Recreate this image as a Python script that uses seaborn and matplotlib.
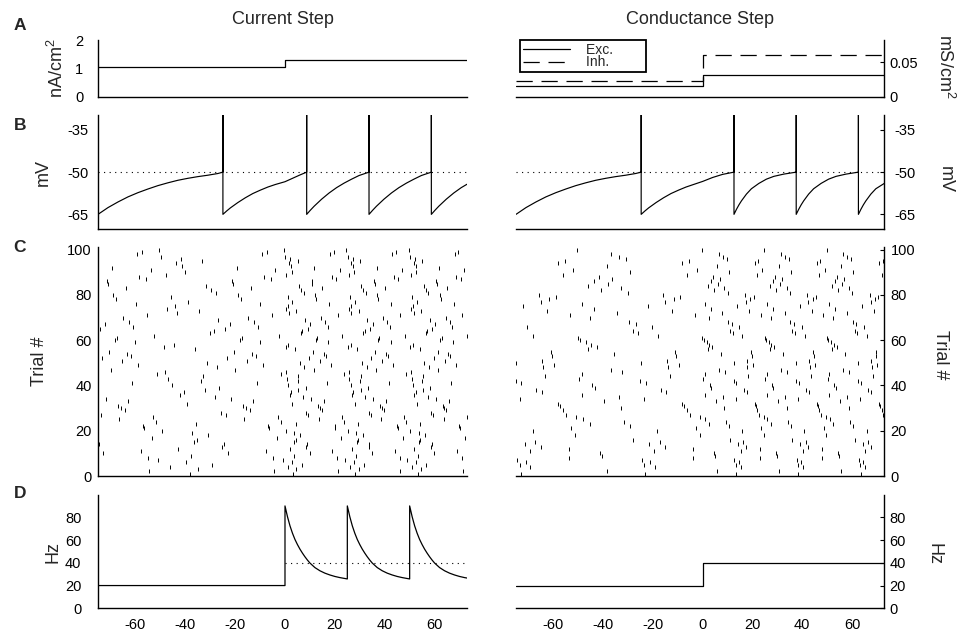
import pandas as pd
import matplotlib
matplotlib.use("Agg")
import matplotlib.pyplot as plt
import seaborn as sns
from matplotlib.lines import Line2D

T_MIN, T_MAX = -75, 73

# A: stimulus (current step / conductance step)
step_t = [-75, 0, 0, 73]
current = [1.06, 1.06, 1.29, 1.29]
g_exc = [0.0157, 0.0157, 0.0314, 0.0314]
g_inh = [0.023, 0.023, 0.060, 0.060]

# B: membrane potential, spikes drawn as vertical strokes (peak clipped)
THRESHOLD = -50
vm_cur_t = [-75, -71, -67, -63, -59, -55, -51, -47, -43, -39, -35, -31, -27, -24.9,
            -24.9, -24.9,
            -23.4, -21.9, -18.9, -15.9, -12.9, -9.9, -6.9, -3.9, 0, 3, 6, 8.7,
            8.7, 8.7,
            10.2, 11.7, 14.7, 17.7, 20.7, 23.7, 26.7, 29.7, 33.7,
            33.7, 33.7,
            35.2, 36.7, 39.7, 42.7, 45.7, 48.7, 51.7, 54.7, 58.7,
            58.7, 58.7,
            60.2, 61.7, 64.7, 67.7, 70.7, 73]
vm_cur = [-65, -62.6, -60.6, -58.8, -57.3, -56.0, -54.8, -53.8, -52.9, -52.2, -51.6, -51.1, -50.5, -50,
          0, -65,
          -63.8, -62.7, -60.8, -59.1, -57.6, -56.4, -55.3, -54.4, -53.4, -52.2, -51.0, -50,
          0, -65,
          -63.5, -62.1, -59.6, -57.4, -55.5, -53.9, -52.5, -51.2, -50,
          0, -65,
          -63.5, -62.1, -59.6, -57.4, -55.5, -53.9, -52.5, -51.2, -50,
          0, -65,
          -63.5, -62.1, -59.6, -57.4, -55.5, -54.3]
vm_cond_t = [-75, -71, -67, -63, -59, -55, -51, -47, -43, -39, -35, -31, -27, -24.7,
             -24.7, -24.7,
             -23.2, -21.7, -18.7, -15.7, -12.7, -9.7, -6.7, -3.7, 0, 4, 8, 12.6,
             12.6, 12.6,
             13.6, 14.6, 15.6, 17.6, 19.6, 22.6, 25.6, 28.6, 32.6, 37.6,
             37.6, 37.6,
             38.6, 39.6, 40.6, 42.6, 44.6, 47.6, 50.6, 53.6, 57.6, 62.6,
             62.6, 62.6,
             63.6, 64.6, 65.6, 67.6, 69.6, 73]
vm_cond = [-65, -62.6, -60.6, -58.8, -57.3, -56.0, -54.8, -53.8, -52.9, -52.2, -51.6, -51.1, -50.5, -50,
           0, -65,
           -63.8, -62.7, -60.8, -59.1, -57.6, -56.4, -55.3, -54.4, -53.3, -51.9, -50.8, -50,
           0, -65,
           -63.2, -61.6, -60.2, -57.8, -55.9, -54.0, -52.5, -51.5, -50.7, -50,
           0, -65,
           -63.2, -61.6, -60.2, -57.8, -55.9, -54.0, -52.5, -51.5, -50.7, -50,
           0, -65,
           -63.2, -61.6, -60.2, -57.8, -55.9, -54.0]

# C: rasters. Each trial fires periodically; stored are the last spike
# before the step and the first spike after it.
PRE_PERIOD = 50
POST_PERIOD = 25
cur_trials = list(range(1, 101))
cur_last_pre = [-38.2, -4.4, -34.8, -46.2, -29.2, -39.6, -0.9, -4.9, -37.7, -22.8,
                -7.8, -42.8, -25.4, -24.6, -36.6, -35.3, -3.3, -30.8, -37.4, -49.2,
                -6.4, -6.8, -35.7, -1.8, -16.4, -2.8, -23.8, -25.7, -14.2, -15.8,
                -16.8, -39.3, -12.9, -21.7, -28.1, -42.2, -40.6, -32.1, -26.3, -45.2,
                -11.3, -33.7, -46.8, -32.8, -1.5, -48.1, -19.9, -27.3, -8.9, -31.3,
                -15.4, -23.3, -11.7, -13.2, -20.4, -36.1, -48.7, -44.6, -10.2, -18.2,
                -17.4, -2.4, -30.2, -28.6, -24.2, -10.8, -22.2, -12.4, -26.8, -14.9,
                -5.3, -43.2, -34.3, -47.2, -44.2, -9.9, -38.8, -17.8, -45.7, -18.9,
                -27.8, -29.7, -13.8, -31.7, -20.8, -21.3, -5.8, -8.4, -47.7, -40.1,
                -3.9, -19.3, -41.2, -43.8, -33.2, -41.7, -49.7, -9.4, -7.3, -0.4]
cur_first_post = [3.2, 21.3, 4.5, 1.1, 6.7, 2.7, 24.1, 21.0, 3.5, 9.9,
                  19.0, 1.9, 8.5, 8.8, 3.8, 4.3, 22.3, 6.1, 3.6, 0.3,
                  20.2, 19.9, 4.3, 23.5, 13.6, 22.8, 9.3, 8.5, 14.7, 13.9,
                  13.3, 2.9, 15.7, 10.4, 7.2, 1.9, 2.4, 5.4, 8.3, 1.4,
                  16.7, 5.1, 0.8, 5.4, 23.7, 0.5, 11.5, 7.8, 18.4, 5.9,
                  14.1, 9.6, 16.3, 15.5, 11.2, 4.0, 0.3, 1.4, 17.4, 12.3,
                  12.8, 23.0, 6.4, 7.0, 9.1, 17.1, 10.1, 16.0, 8.0, 14.4,
                  21.1, 1.6, 4.5, 0.6, 1.4, 17.6, 3.0, 12.5, 1.1, 12.0,
                  7.5, 6.4, 15.0, 5.6, 11.0, 10.7, 20.5, 18.7, 0.6, 2.7,
                  21.9, 11.8, 2.4, 1.6, 5.1, 2.1, 0.2, 18.1, 19.5, 24.6]
cond_trials = [1, 2, 4, 5, 6, 7, 8, 9, 10, 11,
               12, 13, 14, 15, 16, 18, 20, 21, 22, 23,
               24, 25, 26, 27, 29, 30, 31, 32, 33, 34,
               35, 36, 37, 38, 39, 40, 41, 42, 43, 44,
               45, 46, 47, 48, 49, 50, 51, 53, 54, 55,
               56, 57, 58, 59, 60, 61, 62, 63, 64, 66,
               67, 68, 70, 71, 72, 73, 74, 75, 76, 77,
               78, 79, 80, 81, 82, 83, 84, 85, 86, 87,
               88, 89, 90, 91, 93, 94, 95, 96, 97, 98,
               100]
cond_last_pre = [-23.1, -38.4, -19.3, -23.4, -21.1, -24.5, -3.8, -40.5, -41.3, -19.4,
                 -3.8, -15.1, -21.5, -17.2, -27.9, -1.1, -18.3, -2.8, -29.3, -45.3,
                 -31.4, -48.0, -0.9, -5.0, -6.2, -32.7, -7.3, -8.2, -39.7, -23.4,
                 -33.8, -48.5, -14.7, -16.8, -43.2, -44.3, -22.9, -25.0, -49.6, -13.3,
                 -48.3, -32.5, -37.0, -14.0, -9.6, -24.8, -14.4, -10.7, -35.7, -11.1,
                 -45.9, -42.4, -44.8, -46.9, -49.1, -0.2, -18.0, -25.8, -27.9, -20.4,
                 -26.8, -29.5, -45.3, -3.1, -34.3, -12.5, -43.5, -22.1, -48.3, -15.0,
                 -11.7, -9.0, -15.9, -29.8, -41.0, -32.7, -46.1, -38.1, -43.7, -36.5,
                 -41.8, -6.2, -29.0, -2.1, -38.6, -8.3, -5.4, -30.6, -33.7, -37.0,
                 -0.4]
cond_first_post = [13.5, 5.8, 15.4, 13.3, 14.5, 12.8, 23.1, 4.8, 4.4, 15.3,
                   23.1, 17.5, 14.3, 16.4, 11.1, 24.5, 15.9, 23.6, 10.4, 2.4,
                   9.3, 1.0, 24.6, 22.5, 21.9, 8.7, 21.4, 20.9, 5.2, 13.3,
                   8.1, 0.8, 17.7, 16.6, 3.4, 2.9, 13.6, 12.5, 0.2, 18.4,
                   0.9, 8.8, 6.5, 18.0, 20.2, 12.6, 17.8, 19.7, 7.2, 19.5,
                   2.1, 3.8, 2.6, 1.6, 0.5, 24.9, 16.0, 12.1, 11.1, 14.8,
                   11.6, 10.3, 2.4, 23.5, 7.9, 18.8, 3.3, 14.0, 0.9, 17.5,
                   19.2, 20.5, 17.1, 10.1, 4.5, 8.7, 2.0, 6.0, 3.2, 6.8,
                   4.1, 21.9, 10.5, 24.0, 5.7, 20.9, 22.3, 9.7, 8.2, 6.5,
                   24.8]

# D: firing rate (Hz)
rate_cur_t = [-75, 0,
              0, 1, 2, 3, 4, 5, 6, 7, 8, 9, 10, 12, 14, 16, 18, 20, 22, 25,
              25, 26, 27, 28, 29, 30, 31, 32, 33, 34, 35, 37, 39, 41, 43, 45, 47, 50,
              50, 51, 52, 53, 54, 55, 56, 57, 58, 59, 60, 62, 64, 66, 68, 70, 72, 73]
rate_cur = [20, 20,
            90, 80.5, 72.5, 66, 60.5, 56, 52, 48.5, 45.3, 42.4, 39.8, 35.8, 33, 30.9, 29.3, 28, 27, 25.8,
            90, 80.5, 72.5, 66, 60.5, 56, 52, 48.5, 45.3, 42.4, 39.8, 35.8, 33, 30.9, 29.3, 28, 27, 25.8,
            90, 80.5, 72.5, 66, 60.5, 56, 52, 48.5, 45.3, 42.4, 39.8, 35.8, 33, 30.9, 29.3, 28, 27, 26.6]
rate_cond_t = [-75, 0, 0, 73]
rate_cond = [20, 20, 40, 40]
RATE_REF = 40


def raster_frame(trials, last_pre, first_post):
    rows = []
    for trial, pre, post in zip(trials, last_pre, first_post):
        for t in (pre - PRE_PERIOD, pre):
            if t >= T_MIN:
                rows.append((t, trial))
        for k in range(3):
            t = post + k * POST_PERIOD
            if t <= T_MAX:
                rows.append((t, trial))
    return pd.DataFrame(rows, columns=["time", "trial"])


def trace(ax, t, y, **kw):
    kw.setdefault("color", "black")
    kw.setdefault("linewidth", 0.9)
    sns.lineplot(x=t, y=y, sort=False, estimator=None, ax=ax, **kw)


def setup(ax, side, ylim, yticks, yticklabels=None, pad=4):
    ax.set_xlim(T_MIN, T_MAX)
    ax.set_ylim(*ylim)
    ax.set_yticks(yticks)
    if yticklabels is not None:
        ax.set_yticklabels(yticklabels)
    ax.spines["top"].set_visible(False)
    if side == "left":
        ax.spines["right"].set_visible(False)
    else:
        ax.spines["left"].set_visible(False)
        ax.yaxis.tick_right()
    for s in ax.spines.values():
        s.set_linewidth(1.0)
        s.set_color("black")
    ax.tick_params(axis="y", direction="in", length=3, width=0.8, pad=pad,
                   labelsize=10.5, colors="black")
    ax.set_xticks([])
    ax.set_xlabel("")
    ax.set_ylabel("")


sns.set_style("white")
plt.rcParams["font.family"] = ["Liberation Sans", "DejaVu Sans"]
plt.rcParams["mathtext.fontset"] = "custom"
plt.rcParams["mathtext.rm"] = "Liberation Sans"
plt.rcParams["mathtext.it"] = "Liberation Sans"
plt.rcParams["axes.unicode_minus"] = False

W, H = 959, 635
fig = plt.figure(figsize=(W / 100, H / 100), dpi=100)


def px_axes(x0, x1, y0, y1):
    return fig.add_axes([x0 / W, 1 - y1 / H, (x1 - x0) / W, (y1 - y0) / H])


LX = (98, 467)
RX = (516, 884.3)
rows_y = {"A": (40, 96.7), "B": (115, 229), "C": (247, 476), "D": (495, 608.3)}

dots = (0, (1, 4))
dash = (0, (13, 7))

# ---- A ----
ax = px_axes(*LX, *rows_y["A"])
trace(ax, step_t, current)
setup(ax, "left", (0, 2), [0, 1, 2], pad=10.5)

ax = px_axes(*RX, *rows_y["A"])
trace(ax, step_t, g_exc)
trace(ax, step_t, g_inh, linestyle=dash)
setup(ax, "right", (0, 0.0824), [0, 0.05], ["0", "0.05"], pad=4)
handles = [Line2D([], [], color="black", lw=0.9),
           Line2D([], [], color="black", lw=0.9, linestyle=dash)]
leg = ax.legend(handles, ["Exc.        ", "Inh.        "], loc="upper left",
                bbox_to_anchor=(0.012, 1.0), borderaxespad=0, frameon=True,
                fancybox=False, edgecolor="black", framealpha=1, fontsize=10,
                handlelength=3.4, handletextpad=1.1, labelspacing=-0.1, borderpad=0.2)
leg.get_frame().set_linewidth(1.3)

# ---- B ----
for cols, t, v, side in [(LX, vm_cur_t, vm_cur, "left"),
                         (RX, vm_cond_t, vm_cond, "right")]:
    ax = px_axes(*cols, *rows_y["B"])
    ax.axhline(THRESHOLD, color="black", lw=0.8, linestyle=dots)
    trace(ax, t, v, linewidth=0.85)
    setup(ax, side, (-70.2, -29.7), [-65, -50, -35], pad=7)

# ---- C ----
for cols, trials, pre, post, side in [
        (LX, cur_trials, cur_last_pre, cur_first_post, "left"),
        (RX, cond_trials, cond_last_pre, cond_first_post, "right")]:
    ax = px_axes(*cols, *rows_y["C"])
    df = raster_frame(trials, pre, post)
    sns.scatterplot(data=df, x="time", y="trial", marker="|", s=6,
                    linewidth=0.7, color="black", ax=ax)
    setup(ax, side, (0, 101.2), [0, 20, 40, 60, 80, 100], pad=4.5)

# ---- D ----
for cols, t, r, side, pad in [(LX, rate_cur_t, rate_cur, "left", 12),
                              (RX, rate_cond_t, rate_cond, "right", 3.6)]:
    ax = px_axes(*cols, *rows_y["D"])
    if side == "left":
        ax.plot([0, T_MAX], [RATE_REF, RATE_REF], color="black", lw=0.8, linestyle=dots)
    trace(ax, t, r)
    setup(ax, side, (0, 99.6), [0, 20, 40, 60, 80], pad=pad)
    ax.set_xticks([-60, -40, -20, 0, 20, 40, 60])
    ax.tick_params(axis="x", direction="in", length=3, width=0.8, pad=7,
                   labelsize=10.5, colors="black")


# ---- text ----
def ftext(x, y, s, **kw):
    fig.text(x / W, 1 - y / H, s, ha="center", va="center", **kw)


ftext(282.5, 20, "Current Step", fontsize=13)
ftext(700, 20, "Conductance Step", fontsize=13)
for letter, y in [("A", 26), ("B", 125), ("C", 248), ("D", 493)]:
    ftext(20, y, letter, fontsize=12.5, fontweight="bold")

ftext(57, 68.4, r"nA/cm$^2$", fontsize=13, rotation=90)
ftext(43, 173, "mV", fontsize=13, rotation=90)
ftext(40, 361, "Trial #", fontsize=13, rotation=90)
ftext(53, 552, "Hz", fontsize=13, rotation=90)
ftext(945, 66, r"mS/cm$^2$", fontsize=13, rotation=270)
ftext(945, 180, "mV", fontsize=13, rotation=270)
ftext(940, 355, "Trial #", fontsize=13, rotation=270)
ftext(934, 554, "Hz", fontsize=13, rotation=270)

fig.savefig("out.png", dpi=100)
